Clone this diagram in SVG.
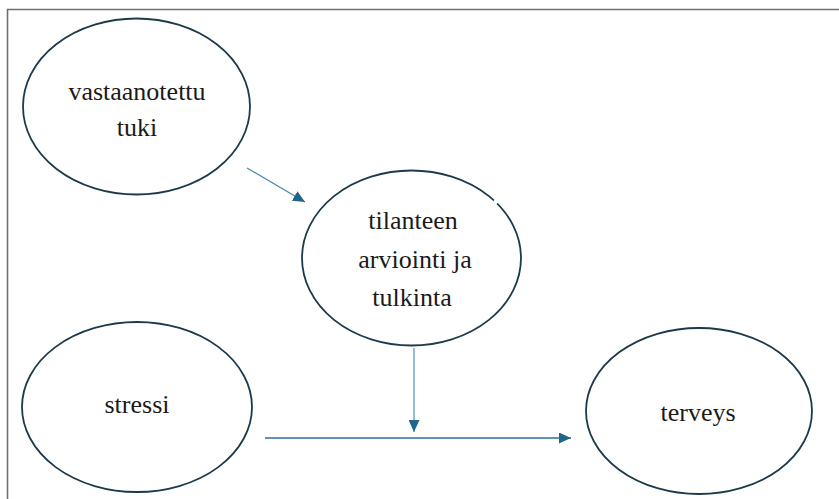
<svg xmlns="http://www.w3.org/2000/svg" width="839" height="499" viewBox="0 0 839 499">
<defs>
<style>
.node ellipse{fill:#fff;stroke:#1d3a4b;stroke-width:1.8}
.lbl{font-family:"Liberation Serif","Times New Roman",serif;font-size:26px;fill:#1a1a1a;text-anchor:middle}
.conn{fill:none;stroke-width:1.3}
</style>
<marker id="ah" markerUnits="userSpaceOnUse" markerWidth="13" markerHeight="11" refX="12" refY="5.5" orient="auto">
<path d="M0,0 L12,5.5 L0,11 z" fill="#1f668a"/>
</marker>
</defs>
<rect width="839" height="499" fill="#fff"/>
<path d="M7.5,499 L7.5,9.5 L839,9.5" fill="none" stroke="#6f6f6f" stroke-width="1.6"/>
<g id="n1" class="node">
<ellipse cx="136.5" cy="106.5" rx="113.5" ry="88"/>
<text class="lbl" x="137" y="100">vastaanotettu</text>
<text class="lbl" x="137" y="136">tuki</text>
</g>
<g id="n2" class="node">
<ellipse cx="411.5" cy="258" rx="109.5" ry="87.5"/>
<line x1="494" y1="200.3" x2="497.2" y2="203.3" stroke="#fff" stroke-width="3"/>
<text class="lbl" x="413" y="229">tilanteen</text>
<text class="lbl" x="415" y="268">arviointi ja</text>
<text class="lbl" x="412" y="306">tulkinta</text>
</g>
<g id="n3" class="node">
<ellipse cx="137" cy="407" rx="115" ry="85"/>
<text class="lbl" x="137" y="413">stressi</text>
</g>
<g id="n4" class="node">
<ellipse cx="699" cy="411" rx="113" ry="83"/>
<text class="lbl" x="698" y="421">terveys</text>
</g>
<g id="connectors">
<line class="conn" x1="247" y1="168" x2="305" y2="202" stroke="#4f8db0" marker-end="url(#ah)"/>
<line class="conn" x1="414" y1="348" x2="414" y2="432" stroke="#5f98bb" marker-end="url(#ah)"/>
<line class="conn" x1="265" y1="438" x2="571" y2="438" stroke="#2a6f94" marker-end="url(#ah)"/>
</g>
</svg>
